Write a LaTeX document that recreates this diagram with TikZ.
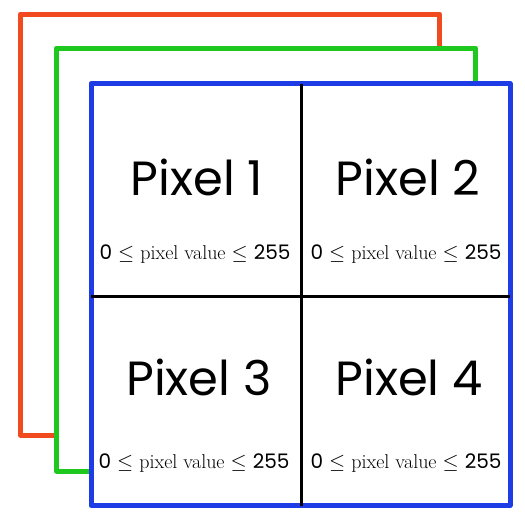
\documentclass[tikz,border=0pt]{standalone}
\usepackage{fontspec}
\newfontfamily\pixfont{Poppins}
\definecolor{chred}{HTML}{F04A1E}
\definecolor{chgreen}{HTML}{1EC81E}
\definecolor{chblue}{HTML}{1E3CE6}
\usetikzlibrary{positioning}
\tikzset{
  channel/.style={line width=5pt,line join=round,fill=white},
  divider/.style={line width=3pt,black},
  pixlabel/.style={anchor=base,font=\pixfont\fontsize{48}{52}\selectfont},
  pixrange/.style={anchor=base,font=\fontsize{20}{24}\selectfont}
}

\begin{document}
\begin{tikzpicture}[x=1pt,y=-1pt]
  \useasboundingbox (0,0) rectangle (525,512);
  % three colour channels, back to front
  \draw[channel,draw=chred] (20.5,14) rectangle (439.5,435);
  \draw[channel,draw=chgreen] (56.5,48) rectangle (475.5,471);
  \draw[channel,draw=chblue] (91,83.5) rectangle (510,505.5);
  % 2x2 grid of the front channel
  \coordinate (top) at (301.5,83.5);
  \coordinate (bot) at (301.5,505.5);
  \coordinate (lft) at (91,296);
  \coordinate (rgt) at (510,296);
  \draw[divider] (top) -- (bot);
  \draw[divider] (lft) -- (rgt);
  \node[pixlabel] (p1) at (197,195) {Pixel 1};
  \node[pixlabel] (p2) at (408,195) {Pixel 2};
  \node[pixlabel] (p3) at (199,395) {Pixel 3};
  \node[pixlabel] (p4) at (409,395) {Pixel 4};
  \node[pixrange] (r1) at (195,259) {{\pixfont 0} $\leq$ pixel value $\leq$ {\pixfont 255}};
  \node[pixrange] (r2) at (406,259) {{\pixfont 0} $\leq$ pixel value $\leq$ {\pixfont 255}};
  \node[pixrange] (r3) at (194,468) {{\pixfont 0} $\leq$ pixel value $\leq$ {\pixfont 255}};
  \node[pixrange] (r4) at (406,468) {{\pixfont 0} $\leq$ pixel value $\leq$ {\pixfont 255}};
\end{tikzpicture}
\end{document}
